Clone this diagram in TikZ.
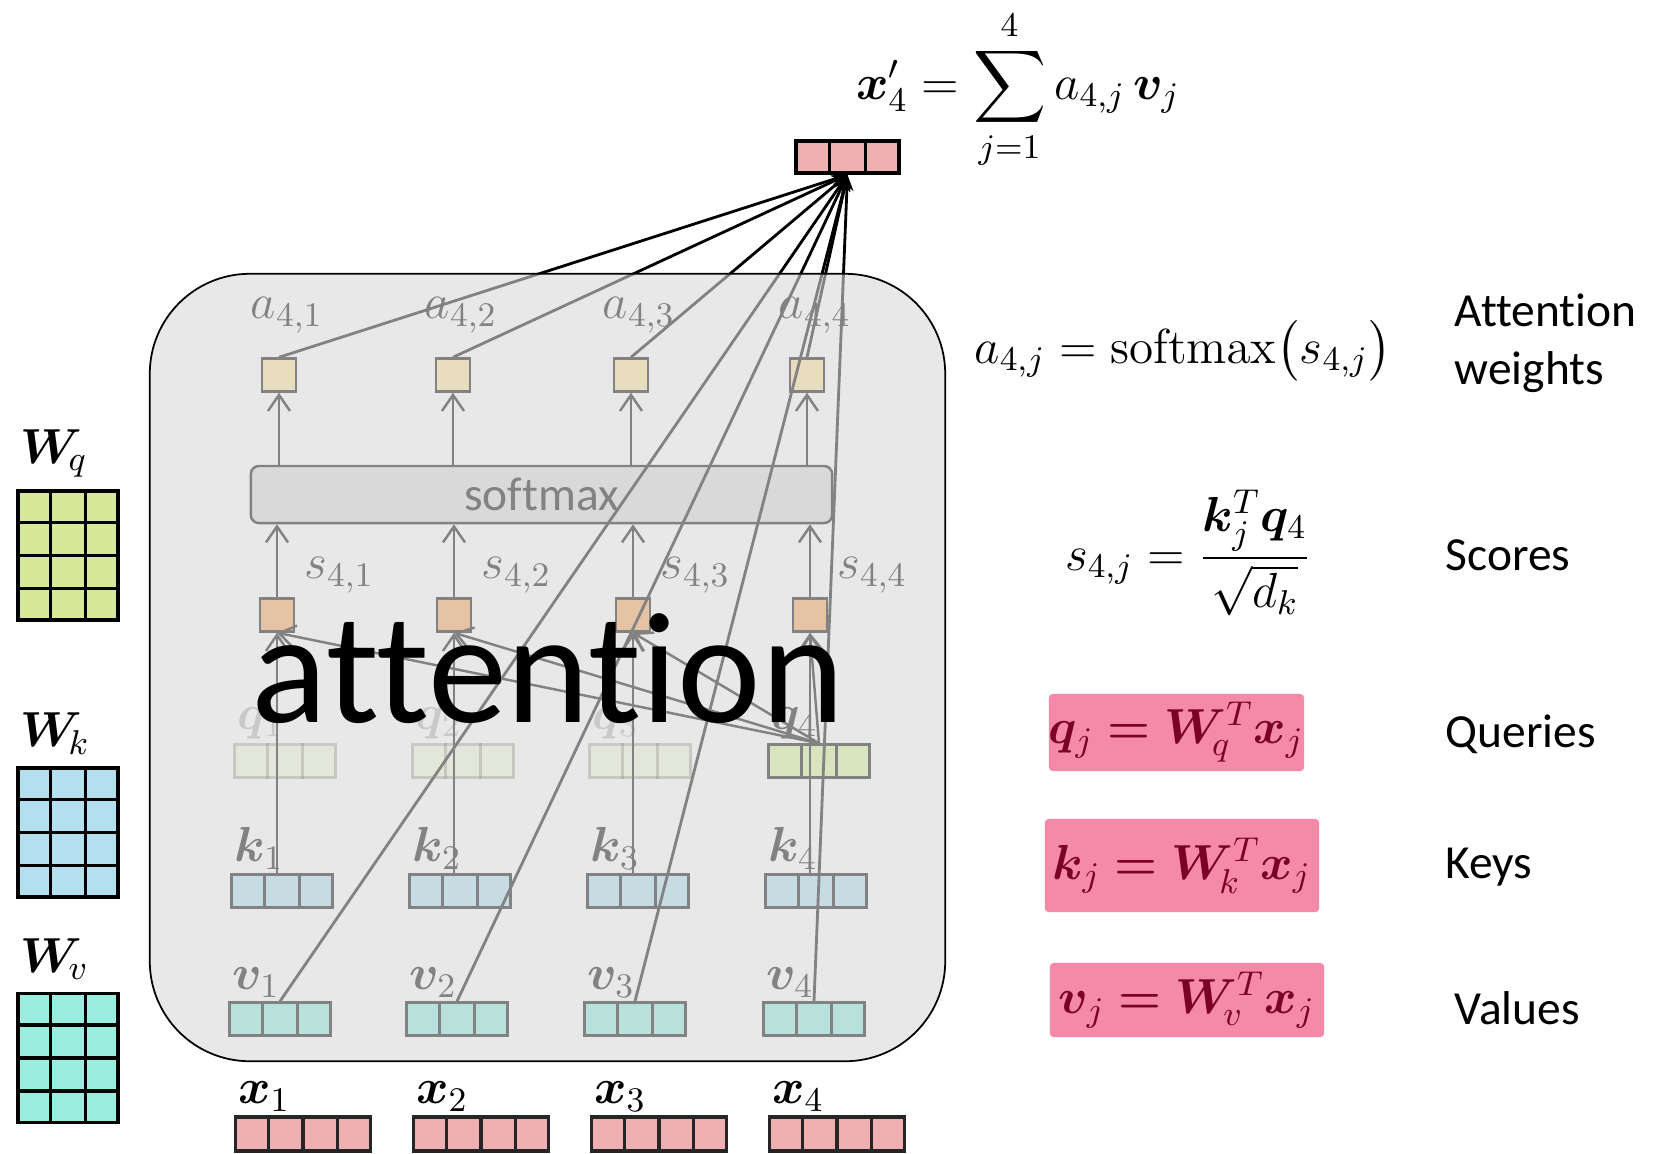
\RequirePackage{fix-cm}
\documentclass[tikz,border=0pt]{standalone}
\usepackage[no-math]{fontspec}
\setmainfont[Ligatures=NoCommon]{Carlito}
\usepackage{amsmath,bm}
\usetikzlibrary{arrows.meta, positioning, calc}

\definecolor{acol}{HTML}{FFE699}
\definecolor{scol}{HTML}{FAA258}
\definecolor{qcol}{HTML}{D4F596}
\definecolor{kcol}{HTML}{AEE0F2}
\definecolor{vcol}{HTML}{89EDE0}
\definecolor{xcol}{HTML}{EFB0B2}
\definecolor{wqcol}{HTML}{D7E89B}
\definecolor{wkcol}{HTML}{B4DFEE}
\definecolor{wvcol}{HTML}{9AEEE0}
\definecolor{smcol}{HTML}{D9D9D9}
\definecolor{hlcol}{HTML}{F589A8}
\definecolor{hltext}{HTML}{7A0026}

\begin{document}
\begin{tikzpicture}[x=0.01cm, y=-0.01cm,
  font=\fontsize{14}{17}\selectfont,
  cell/.style={draw=black, line width=0.7pt, inner sep=0pt, minimum height=0.33cm},
  vecbox/.style={cell, minimum width=1.01cm},
  dot/.style={cell, minimum width=0.34cm},
  inbox/.style={cell, draw=black!85, line width=0.9pt, fill=xcol,
    minimum width=1.35cm, minimum height=0.34cm},
  matbox/.style={draw=black, line width=0.9pt, inner sep=0pt,
    minimum width=1.0cm, minimum height=1.29cm},
  lbl/.style={inner sep=1pt, anchor=south west},
  arr/.style={-{Straight Barb[length=1.6mm, width=2.2mm]}, line width=0.7pt},
  toout/.style={-{Stealth[length=1.6mm, width=1.3mm]}, line width=0.8pt},
  hl/.style={fill=hlcol, inner sep=0pt, text=hltext, rounded corners=1pt},
  side/.style={anchor=west, align=left, inner sep=0pt, font=\fontsize{13.5}{16.5}\selectfont}]

  \useasboundingbox (0,0) rectangle (1668,1153);

  % output vector
  \node[vecbox, fill=xcol, line width=1pt, minimum width=1.03cm, minimum height=0.32cm]
    (out) at (847.5,157) {};
  \foreach \f in {0.333,0.667}
    \draw[line width=1pt] ($(out.north west)!\f!(out.north east)$) -- ($(out.south west)!\f!(out.south east)$);

  % attention weights
  \foreach \i/\px in {1/279, 2/453, 3/631, 4/807} {
    \node[dot, fill=acol] (a\i) at (\px,375) {};
    \node[inner sep=1pt, anchor=south] at ([xshift=0.08cm, yshift=0.2cm]a\i.north) {$a_{4,\i}$};
  }

  % softmax
  \node[cell, fill=smcol, rounded corners=0.08cm, minimum width=5.81cm, minimum height=0.57cm,
    font=\fontsize{13.5}{16}\selectfont] (sm) at (541.5,494.5) {softmax};

  % scores
  \foreach \i/\px in {1/277, 2/454, 3/633, 4/810} {
    \node[dot, fill=scol] (s\i) at (\px,615) {};
    \node[lbl] at ([xshift=0.05cm]s\i.north east) {$s_{4,\i}$};
  }

  % queries, only q4 in use
  \foreach \i/\px/\op in {1/285/0.3, 2/463/0.3, 3/640/0.3, 4/819/1} {
    \node[vecbox, fill=qcol, opacity=\op] (q\i) at (\px,761) {};
    \foreach \f in {0.333,0.667}
      \draw[line width=0.7pt, opacity=\op] ($(q\i.north west)!\f!(q\i.north east)$) -- ($(q\i.south west)!\f!(q\i.south east)$);
    \node[lbl, opacity=\op] at (q\i.north west) {$\bm{q}_{\i}$};
  }

  % keys
  \foreach \i/\px in {1/282, 2/460, 3/638, 4/816} {
    \node[vecbox, fill=kcol] (k\i) at (\px,891) {};
    \foreach \f in {0.333,0.667}
      \draw[line width=0.7pt] ($(k\i.north west)!\f!(k\i.north east)$) -- ($(k\i.south west)!\f!(k\i.south east)$);
    \node[lbl] at (k\i.north west) {$\bm{k}_{\i}$};
  }

  % values
  \foreach \i/\px in {1/280, 2/457, 3/635, 4/814} {
    \node[vecbox, fill=vcol] (v\i) at (\px,1019) {};
    \foreach \f in {0.333,0.667}
      \draw[line width=0.7pt] ($(v\i.north west)!\f!(v\i.north east)$) -- ($(v\i.south west)!\f!(v\i.south east)$);
    \node[lbl] at (v\i.north west) {$\bm{v}_{\i}$};
  }

  % connectors inside
  \foreach \i in {1,...,4} {
    \draw[arr] (s\i.south |- k\i.north) -- (s\i.south);
    \draw[arr] (q4.north) -- (s\i.south);
    \draw[arr] (s\i.north) -- (s\i.north |- sm.south);
    \draw[arr] (a\i.south |- sm.north) -- (a\i.south);
  }

  % weighted sum
  \foreach \i in {1,...,4} {
    \draw[toout] (a\i.north) -- (out.south);
    \draw[toout] (v\i.north) -- (out.south);
  }

  % veil over the block
  \node[draw=black, line width=0.5pt, fill=smcol, fill opacity=0.6, rounded corners=1cm,
    minimum width=7.95cm, minimum height=7.87cm] (panel) at (547.5,667.5) {};
  \node[font=\fontsize{45}{50}\selectfont, anchor=base, inner sep=0pt] (att) at (548,722) {attention};

  % inputs
  \foreach \i/\px in {1/303, 2/481, 3/659, 4/837} {
    \node[inbox] (x\i) at (\px,1134) {};
    \foreach \f in {0.25,0.5,0.75}
      \draw[line width=0.9pt, draw=black!85] ($(x\i.north west)!\f!(x\i.north east)$) -- ($(x\i.south west)!\f!(x\i.south east)$);
    \node[lbl] at (x\i.north west) {$\bm{x}_{\i}$};
  }

  % weight matrices
  \foreach \n/\c/\py/\s in {Wq/wqcol/555.5/q, Wk/wkcol/832.5/k, Wv/wvcol/1058/v} {
    \node[matbox, fill=\c] (\n) at (68,\py) {};
    \foreach \f in {0.333,0.667}
      \draw[line width=0.9pt] ($(\n.north west)!\f!(\n.north east)$) -- ($(\n.south west)!\f!(\n.south east)$);
    \foreach \f in {0.25,0.5,0.75}
      \draw[line width=0.9pt] ($(\n.north west)!\f!(\n.south west)$) -- ($(\n.north east)!\f!(\n.south east)$);
    \node[lbl] at ([yshift=0.08cm]\n.north west) {$\bm{W}_{\!\s}$};
  }

  % formulas
  \node (fsum) at (1018,90) {$\displaystyle \bm{x}'_4 = \sum_{j=1}^{4} a_{4,j}\,\bm{v}_j$};
  \node (fa) at (1183,351) {$a_{4,j} = \mathrm{softmax}\bigl(s_{4,j}\bigr)$};
  \node (fs) at (1188,553) {$\displaystyle s_{4,j} = \frac{\bm{k}_j^T\bm{q}_4}{\sqrt{d_k}}$};
  \node[hl, minimum width=2.53cm, minimum height=0.77cm] (fq) at (1176.5,732.5) {$\bm{q}_j \mathrel{\bm{=}} \bm{W}_{\!q}^T\bm{x}_j$};
  \node[hl, minimum width=2.74cm, minimum height=0.93cm] (fk) at (1182,865.5) {$\bm{k}_j \mathrel{\bm{=}} \bm{W}_{\!k}^T\bm{x}_j$};
  \node[hl, minimum width=2.74cm, minimum height=0.74cm] (fv) at (1187,1000) {$\bm{v}_j \mathrel{\bm{=}} \bm{W}_{\!v}^T\bm{x}_j$};

  % row names
  \node[side] (tw) at (1454,343) {Attention\\weights};
  \node[side] (ts) at (1445,555) {Scores};
  \node[side] (tq) at (1445,734) {Queries};
  \node[side] (tk) at (1445,867) {Keys};
  \node[side] (tv) at (1454,1008) {Values};
\end{tikzpicture}
\end{document}
